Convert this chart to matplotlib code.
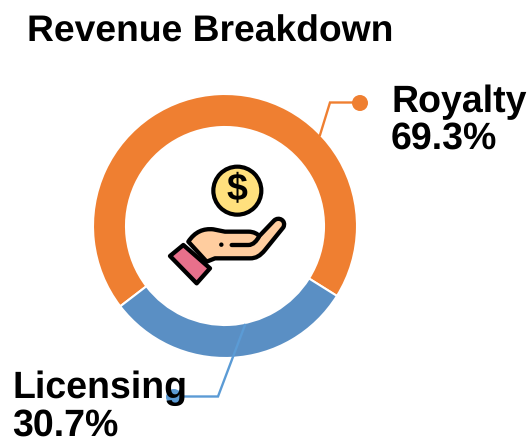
import matplotlib
matplotlib.use('Agg')
import matplotlib.pyplot as plt
from matplotlib.patches import Circle, Polygon, PathPatch
from matplotlib.path import Path

plt.rcParams['font.family'] = ['Liberation Sans', 'DejaVu Sans']
plt.rcParams['text.hinting'] = 'none'

title = 'Revenue Breakdown'
categories = ['Royalty', 'Licensing']
values = [69.3, 30.7]
colors = ['#ef7f31', '#5a8fc4']
line_colors = ['#ef7f31', '#5b9bd5']

W, H = 527, 438


def Y(y):
    # picture coords have y going down
    return H - y


def Z(x, y):
    return 150 + x / 3, Y(150 + y / 3)


fig = plt.figure(figsize=(W / 100, H / 100), dpi=100)
ax = fig.add_axes([0, 0, 1, 1])

ax.pie(values, colors=colors, startangle=-32, radius=132, center=(225, Y(226)),
       wedgeprops={'width': 33, 'edgecolor': 'white', 'linewidth': 1.5}, frame=True)
ax.set_xlim(0, W)
ax.set_ylim(0, H)
ax.set_aspect('equal')
ax.axis('off')

# leader lines
ax.plot([320, 330, 360], [Y(135), Y(102.5), Y(102.5)], color=line_colors[0], lw=1.7, solid_joinstyle='miter')
ax.add_patch(Circle((360, Y(103)), 8, color=line_colors[0], lw=0))
ax.plot([245, 218, 175], [Y(325), Y(396.5), Y(396.5)], color=line_colors[1], lw=1.7, solid_joinstyle='miter')
ax.add_patch(Circle((174, Y(397)), 8, color=line_colors[1], lw=0))

# icon: coin
ax.add_patch(Circle(Z(262, 122), 24, fc='#ffe07d', ec='black', lw=3))
ax.text(*Z(261, 122), '\\$', fontsize=27, fontweight='bold', ha='center', va='center', color='black')

# icon: hand
hand = [(115, 275), (135, 245), (160, 235), (190, 238), (225, 245), (295, 245),
        (312, 245), (322, 252), (328, 258), (372, 212), (386, 198), (410, 212),
        (400, 232), (345, 300), (330, 318), (318, 325), (300, 325), (195, 325), (170, 335), (115, 275)]
L, C = Path.LINETO, Path.CURVE4
codes = [Path.MOVETO, C, C, C, L, L, C, C, C, L, C, C, C, L, C, C, C, L, L, Path.CLOSEPOLY]
ax.add_patch(PathPatch(Path([Z(*p) for p in hand], codes), fc='#ffcd9f', ec='black', lw=3.1, joinstyle='round'))
ax.add_patch(Polygon([Z(100, 285), Z(180, 355), Z(140, 400), Z(60, 318)], fc='#e8708b', ec='black', lw=3.1,
                     joinstyle='round'))
finger = Path([Z(245, 285), Z(295, 285), Z(310, 285), Z(320, 272), Z(327, 260)],
              [Path.MOVETO, L, C, C, C])
ax.add_patch(PathPatch(finger, fc='none', ec='black', lw=3.1, capstyle='round'))
ax.add_patch(Circle(Z(214, 284), 2.2, color='black', lw=0))

# text
ax.text(27, Y(42), title, fontsize=26.8, fontweight='bold', color='black', va='baseline')
ax.text(391, Y(112), categories[0], fontsize=27, fontweight='bold', color='black', va='baseline')
ax.text(391, Y(149), f'{values[0]}%', fontsize=27, fontweight='bold', color='black', va='baseline')
ax.text(12, Y(398), categories[1], fontsize=27, fontweight='bold', color='black', va='baseline')
ax.text(12, Y(436), f'{values[1]}%', fontsize=27, fontweight='bold', color='black', va='baseline')

fig.savefig('out.png', dpi=100)
